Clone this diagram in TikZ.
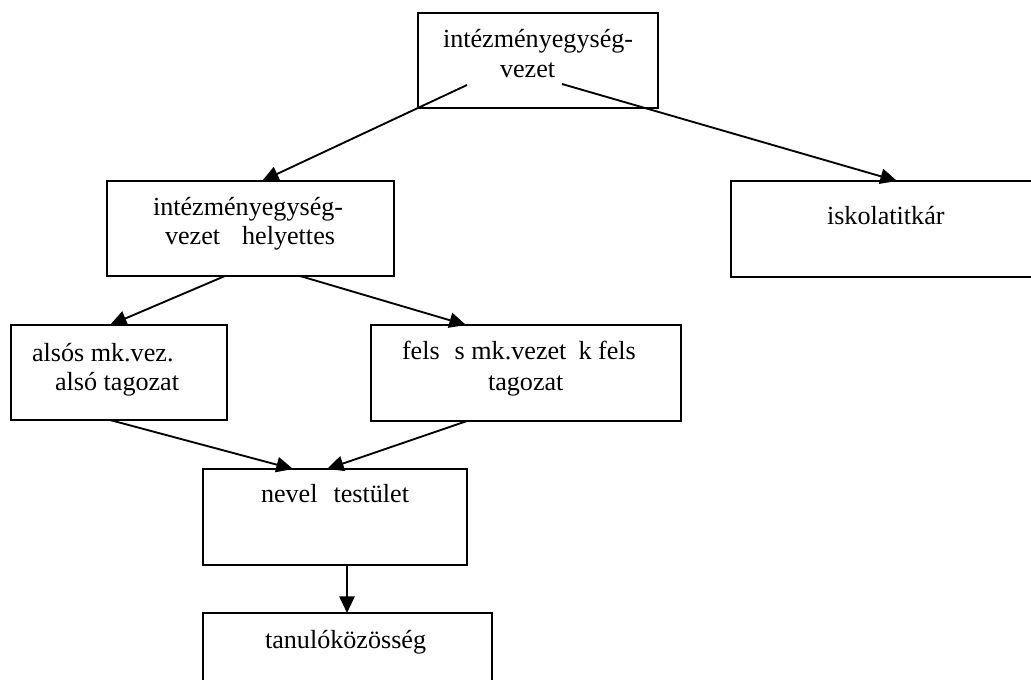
\documentclass[tikz,border=0pt]{standalone}
\usepackage{fontspec}
\setmainfont{Liberation Serif}
\usetikzlibrary{arrows.meta,calc}
\begin{document}
\begin{tikzpicture}[x=0.75pt,y=-0.75pt,
  box/.style={draw,line width=1.1pt,inner sep=0pt,outer sep=0pt},
  lbl/.style={inner sep=0pt,outer sep=0pt,anchor=base west,font=\fontsize{19.6pt}{23pt}\selectfont},
  arr/.style={line width=1.4pt,-{Triangle[length=12.5pt,width=11.5pt]}}]
\useasboundingbox (0,0) rectangle (1031,680);
% boxes
\node[box,minimum width=180pt,minimum height=71.25pt] (b1) at (538,60.5) {};
\node[box,minimum width=215.25pt,minimum height=71.25pt] (b2) at (250.5,228.5) {};
\node[box,minimum width=231pt,minimum height=72pt] (b3) at (885,229) {};
\node[box,minimum width=162pt,minimum height=71.25pt] (b4) at (119,372.5) {};
\node[box,minimum width=232.5pt,minimum height=72pt] (b5) at (526,373) {};
\node[box,minimum width=198pt,minimum height=72pt] (b6) at (335,517) {};
\node[box,minimum width=216.75pt,minimum height=72pt] (b7) at (347.5,661) {};
% texts
\node[lbl] (t1a) at (443,48) {intézményegység-};
\node[lbl] (t1b) at (500,78) {vezet};
\node[lbl] (t2a) at (153,216) {intézményegység-};
\node[lbl] (t2b) at (165,245) {vezet\hspace{16.5pt}helyettes};
\node[lbl] (t3) at (827,225) {iskolatitkár};
\node[lbl] (t4a) at (32,362) {alsós mk.vez.};
\node[lbl] (t4b) at (55,391) {alsó tagozat};
\node[lbl] (t5a) at (402,360) {fels\hspace{11.25pt}s mk.vezet\hspace{9pt}k fels};
\node[lbl] (t5b) at (488,391) {tagozat};
\node[lbl] (t6) at (261,503) {nevel\hspace{12pt}testület};
\node[lbl] (t7) at (265,648) {tanulóközösség};
% start points inside the top box
\coordinate (s12) at (467,85);
\coordinate (s13) at (562,84);
% connectors
\draw[arr] (s12) -- ($(b2.north west)+(155,0)$);
\draw[arr] (s13) -- ($(b3.north west)+(166,0)$);
\draw[arr] ($(b2.south west)+(118,0)$) -- ($(b4.north west)+(99,0)$);
\draw[arr] ($(b2.south west)+(193,0)$) -- ($(b5.north west)+(95,0)$);
\draw[arr] ($(b4.south west)+(99,0)$) -- ($(b6.north west)+(90,0)$);
\draw[arr] ($(b5.south west)+(96,0)$) -- ($(b6.north west)+(124,0)$);
\draw[arr] ($(b6.south west)+(144,0)$) -- ($(b7.north west)+(144,0)$);
\end{tikzpicture}
\end{document}
